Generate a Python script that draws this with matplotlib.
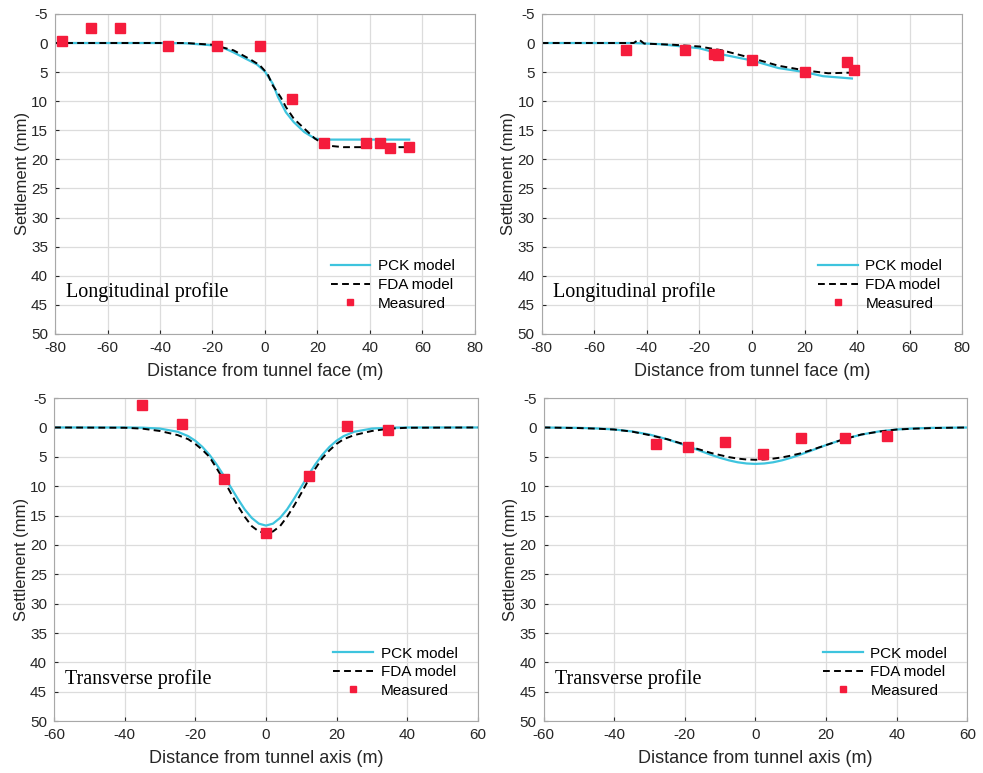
import numpy as np
import matplotlib.pyplot as plt

# --- Datos: perfil longitudinal, sección 1 ---
lon1_meas_x = [-77.2, -66.4, -55.2, -36.8, -18.4, -1.9, 10.2, 22.5, 38.4, 43.8, 47.6, 55.0]
lon1_meas_y = [-0.4, -2.5, -2.5, 0.5, 0.5, 0.5, 9.6, 17.2, 17.2, 17.2, 18.1, 17.8]
lon1_pck_x = [-80, -40, -30, -20, -15, -12, -9, -6, -3, 0, 3, 5, 8, 11, 15, 19, 22, 55]
lon1_pck_y = [0, 0, 0.05, 0.4, 1.0, 1.6, 2.3, 3.0, 3.7, 4.9, 7.0, 9.3, 11.9, 13.6, 15.3, 16.4, 16.6, 16.6]
lon1_fda_x = [-80, -30, -20, -12, -6, -2, 1, 3, 6, 8, 11, 15, 19, 23, 30, 55]
lon1_fda_y = [0, 0, 0.3, 1.25, 2.7, 3.8, 5.3, 7.3, 9.3, 11.0, 13.0, 14.7, 16.4, 17.6, 17.9, 17.9]

# --- Datos: perfil longitudinal, sección 2 ---
lon2_meas_x = [-47.8, -25.6, -14.6, -12.8, 0.0, 20.0, 36.2, 38.7]
lon2_meas_y = [1.26, 1.26, 1.9, 2.1, 3.0, 4.9, 3.3, 4.6]
lon2_pck_x = [-80, -45, -35, -20, -11, 0, 10, 20, 27, 38]
lon2_pck_y = [0, 0, 0.2, 0.9, 2.0, 3.0, 4.3, 5.0, 5.7, 6.1]
lon2_fda_x = [-80, -45, -43, -41, -30, -20, -11, 0, 10, 20, 29, 37]
lon2_fda_y = [0, 0, -0.6, 0.1, 0.3, 0.6, 1.3, 2.6, 3.9, 4.7, 5.2, 5.1]

# --- Datos: perfil transversal, sección 1 ---
tr1_meas_x = [-35.2, -23.9, -11.9, -0.1, 12.3, 22.9, 34.7]
tr1_meas_y = [-3.9, -0.6, 8.7, 18.0, 8.3, -0.3, 0.4]
tr1_pck_x = [-60, -40, -35, -30, -25, -22, -20, -18, -16, -14, -12, -10, -8, -6, -4, -2, 0,
             2, 4, 6, 8, 10, 12, 14, 16, 18, 20, 22, 25, 30, 35, 40, 60]
tr1_pck_y = [0, 0, 0.04, 0.19, 0.73, 1.48, 2.26, 3.31, 4.64, 6.27, 8.13, 10.13, 12.1, 13.95, 15.4, 16.37, 16.7,
             16.37, 15.4, 13.95, 12.1, 10.13, 8.13, 6.27, 4.64, 3.31, 2.26, 1.48, 0.73, 0.19, 0.04, 0, 0]
tr1_fda_x = [-60, -40, -35, -30, -25, -22, -20, -18, -16, -14, -12, -10, -8, -6, -4, -2, 0,
             2, 4, 6, 8, 10, 12, 14, 16, 18, 20, 22, 25, 30, 35, 40, 60]
tr1_fda_y = [0, 0.05, 0.2, 0.6, 1.3, 2.0, 2.8, 3.8, 5.0, 6.9, 8.9, 11.1, 13.3, 15.2, 16.8, 17.7, 18.0,
             17.7, 16.8, 15.2, 13.3, 11.2, 9.0, 7.0, 5.2, 3.9, 2.8, 2.0, 1.3, 0.6, 0.2, 0.05, 0]

# --- Datos: perfil transversal, sección 2 ---
tr2_meas_x = [-28.1, -19.2, -8.6, 2.1, 12.9, 25.5, 37.2]
tr2_meas_y = [2.8, 3.35, 2.4, 4.5, 1.8, 1.8, 1.4]
tr2_pck_x = [-60, -50, -45, -40, -35, -30, -25, -20, -17.5, -15, -12.5, -10, -7.5, -5, -2.5, 0,
             2.5, 5, 7.5, 10, 12.5, 15, 17.5, 20, 25, 30, 35, 40, 45, 50, 60]
tr2_pck_y = [0.01, 0.07, 0.16, 0.34, 0.67, 1.21, 2.0, 3.0, 3.56, 4.12, 4.67, 5.17, 5.6, 5.93, 6.13, 6.2,
             6.13, 5.93, 5.6, 5.17, 4.67, 4.12, 3.56, 3.0, 2.0, 1.21, 0.67, 0.34, 0.16, 0.07, 0.01]
tr2_fda_x = [-60, -50, -45, -40, -35, -30, -25, -20, -17.5, -15, -12.5, -10, -7.5, -5, -2.5, 0,
             2.5, 5, 7.5, 10, 12.5, 15, 17.5, 20, 25, 30, 35, 40, 45, 50, 60]
tr2_fda_y = [0, 0.1, 0.2, 0.35, 0.7, 1.3, 2.0, 2.9, 3.45, 3.9, 4.35, 4.7, 5.05, 5.3, 5.45, 5.5,
             5.45, 5.3, 5.1, 4.8, 4.45, 4.0, 3.5, 3.0, 2.0, 1.2, 0.7, 0.35, 0.2, 0.1, 0]

plt.rcParams['font.family'] = ['Liberation Sans', 'DejaVu Sans']
plt.rcParams['axes.unicode_minus'] = False

CIAN = '#3ec4de'
ROJO = '#f51c3c'

fig = plt.figure(figsize=(9.83, 7.73), dpi=100)
ejes = [
    fig.add_axes([0.056, 0.568, 0.427, 0.414]),
    fig.add_axes([0.551, 0.568, 0.428, 0.414]),
    fig.add_axes([0.055, 0.067, 0.431, 0.418]),
    fig.add_axes([0.553, 0.067, 0.431, 0.418]),
]

paneles = [
    (lon1_pck_x, lon1_pck_y, lon1_fda_x, lon1_fda_y, lon1_meas_x, lon1_meas_y,
     'Longitudinal profile', 'Distance from tunnel face (m)', (-80, 80), 20),
    (lon2_pck_x, lon2_pck_y, lon2_fda_x, lon2_fda_y, lon2_meas_x, lon2_meas_y,
     'Longitudinal profile', 'Distance from tunnel face (m)', (-80, 80), 20),
    (tr1_pck_x, tr1_pck_y, tr1_fda_x, tr1_fda_y, tr1_meas_x, tr1_meas_y,
     'Transverse profile', 'Distance from tunnel axis (m)', (-60, 60), 20),
    (tr2_pck_x, tr2_pck_y, tr2_fda_x, tr2_fda_y, tr2_meas_x, tr2_meas_y,
     'Transverse profile', 'Distance from tunnel axis (m)', (-60, 60), 20),
]

for ax, (px, py, fx, fy, mx, my, titulo, xlab, xlim, paso) in zip(ejes, paneles):
    ax.plot(px, py, color=CIAN, lw=1.6, label='PCK model')
    ax.plot(fx, fy, color='black', ls='--', dashes=(3.5, 2.2), lw=1.4, label='FDA model')
    ax.plot(mx, my, 's', color=ROJO, ms=7, mec=ROJO, label='Measured')

    ax.set_xlim(*xlim)
    ax.set_ylim(50, -5)
    ax.set_xticks(np.arange(xlim[0], xlim[1] + 1, paso))
    ax.set_yticks(np.arange(-5, 51, 5))
    ax.grid(True, color='#dcdcdc', lw=0.9)
    ax.set_axisbelow(True)
    ax.tick_params(direction='in', length=3, pad=5, labelsize=11, colors='#262626')
    for s in ax.spines.values():
        s.set_color('#a8a8a8')
    ax.set_xlabel(xlab, fontsize=13, color='#262626', labelpad=6)
    ax.set_ylabel('Settlement (mm)', fontsize=12, color='#262626', labelpad=1)

    ax.text(0.026, 0.13, titulo, transform=ax.transAxes, va='center', ha='left',
            fontsize=14.5, family=['Liberation Serif', 'DejaVu Serif'])
    ax.legend(loc='lower right', bbox_to_anchor=(0.985, 0.03), frameon=False,
              fontsize=11, handlelength=2.6, handletextpad=0.5,
              labelspacing=0.3, markerscale=0.6)

plt.savefig('out.png', dpi=100)
